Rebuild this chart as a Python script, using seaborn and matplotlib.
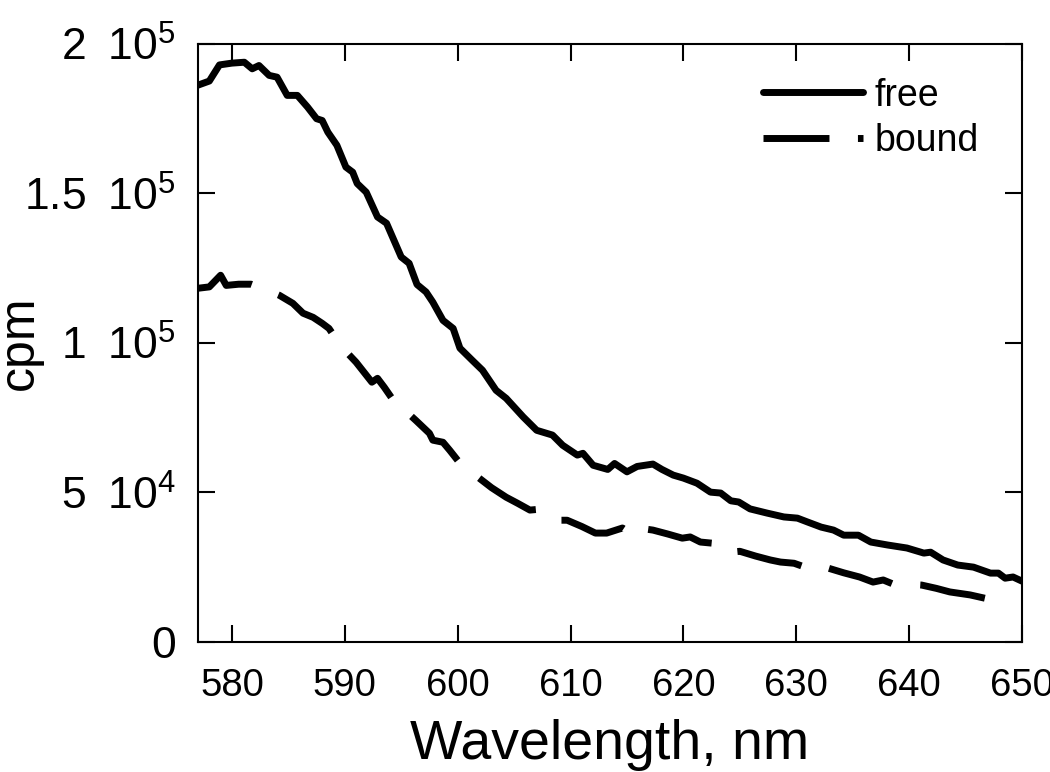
import numpy as np
import pandas as pd
import matplotlib
matplotlib.use("Agg")
import matplotlib.pyplot as plt
import seaborn as sns

# spectra (wavelength in nm, counts per minute / 1000)
free_nm = [576.9, 578.0, 578.9, 580.0, 581.1, 581.8, 582.4, 583.3, 584.0, 584.9,
           585.8, 586.7, 587.5, 588.0, 588.5, 589.3, 590.1, 590.7, 591.1, 591.9,
           592.9, 593.7, 595.0, 595.7, 596.4, 597.2, 597.8, 598.7, 599.6, 600.2,
           601.3, 602.2, 603.4, 604.3, 605.8, 607.0, 608.4, 609.3, 610.6, 611.1,
           612.0, 613.3, 613.9, 615.0, 615.9, 617.3, 618.1, 619.1, 620.0, 621.2,
           622.4, 623.3, 624.2, 624.9, 625.9, 627.4, 628.9, 630.1, 631.0, 632.2,
           633.3, 634.2, 635.5, 636.6, 638.1, 639.8, 641.3, 641.9, 643.0, 644.3,
           645.7, 647.2, 647.9, 648.5, 649.2, 650.0]
free_cpm = [186.1, 187.6, 193.0, 193.6, 193.9, 191.7, 192.8, 189.5, 188.9, 182.8,
            182.8, 178.9, 175.0, 174.4, 170.5, 166.1, 158.8, 157.1, 153.3, 150.4,
            142.1, 140.0, 128.7, 126.6, 119.5, 117.0, 113.6, 107.5, 104.8, 98.2,
            94.1, 90.8, 84.1, 81.4, 75.2, 70.7, 69.1, 65.7, 62.4, 63.0,
            59.0, 57.6, 59.6, 56.8, 58.6, 59.4, 57.6, 55.7, 54.7, 53.0,
            50.0, 49.7, 47.1, 46.7, 44.4, 43.0, 41.7, 41.3, 40.0, 38.3,
            37.3, 35.6, 35.6, 33.3, 32.3, 31.3, 29.6, 29.9, 27.3, 25.6,
            24.9, 22.9, 22.9, 21.2, 21.6, 20.2]

bound_nm = [576.9, 578.0, 579.0, 579.5, 580.6, 581.7, 583.0, 584.2, 585.4, 586.3,
            587.2, 588.0, 588.6, 589.1, 590.0, 591.0, 592.4, 592.9, 593.5, 594.6,
            595.0, 596.3, 597.5, 597.8, 598.7, 599.3, 600.2, 601.1, 601.8, 603.0,
            604.3, 605.3, 606.4, 607.3, 609.1, 609.7, 611.0, 612.2, 613.2, 614.6,
            615.4, 616.0, 617.3, 618.6, 619.9, 620.6, 621.5, 622.6, 623.9, 625.0,
            626.4, 627.7, 628.6, 629.8, 631.0, 632.2, 632.8, 634.2, 635.6, 636.8,
            637.7, 638.6, 639.8, 641.1, 642.4, 643.6, 645.4, 647.4, 649.1]
bound_cpm = [118.2, 118.7, 122.6, 119.2, 119.6, 119.6, 117.8, 115.9, 113.2, 109.9,
             108.5, 106.5, 104.8, 102.0, 97.5, 93.5, 86.8, 88.1, 85.1, 79.1,
             78.5, 74.0, 69.7, 67.4, 66.7, 64.0, 59.7, 58.0, 55.0, 51.5,
             48.3, 46.3, 44.0, 44.3, 40.6, 40.6, 38.5, 36.3, 36.3, 38.0,
             36.0, 38.0, 37.3, 36.0, 34.6, 35.0, 33.3, 32.9, 29.8, 30.2,
             28.6, 27.3, 26.6, 26.2, 24.6, 23.9, 24.6, 23.0, 21.6, 19.9,
             20.6, 19.2, 19.2, 18.9, 17.8, 16.6, 15.6, 13.9, 13.9]

x_ticks = [580, 590, 600, 610, 620, 630, 640, 650]
y_ticks = [0, 50000, 100000, 150000, 200000]
y_labels = ["0", r"$\mathregular{5\ \,10^{4}}$", r"$\mathregular{1\ \,10^{5}}$",
            r"$\mathregular{1.5\ \,10^{5}}$", r"$\mathregular{2\ \,10^{5}}$"]

df = pd.concat([
    pd.DataFrame({"nm": free_nm, "cpm": np.array(free_cpm) * 1000, "sample": "free"}),
    pd.DataFrame({"nm": bound_nm, "cpm": np.array(bound_cpm) * 1000, "sample": "bound"}),
])

sns.set_style("ticks", {"axes.edgecolor": "black", "xtick.color": "black",
                        "ytick.color": "black", "text.color": "black",
                        "axes.labelcolor": "black"})
plt.rcParams["font.family"] = ["Liberation Sans", "DejaVu Sans"]
plt.rcParams["mathtext.fontset"] = "custom"
plt.rcParams["mathtext.rm"] = "Liberation Sans"

fig = plt.figure(figsize=(10.5, 7.72), dpi=100)
ax = fig.add_axes([0.1886, 0.1690, 0.7848, 0.7740])

sns.lineplot(data=df, x="nm", y="cpm", style="sample", ax=ax,
             dashes={"free": "", "bound": (9.5, 4.1)},
             color="black", linewidth=5, estimator=None, sort=False)

ax.set_xlim(577, 650)
ax.set_ylim(0, 200000)
ax.set_xticks(x_ticks)
ax.set_xticklabels([str(t) for t in x_ticks])
ax.set_yticks(y_ticks)
ax.set_yticklabels(y_labels)
ax.tick_params(direction="in", length=12, width=1.5, top=True, right=True)
ax.tick_params(axis="x", pad=19, labelsize=27.5)
ax.tick_params(axis="y", pad=16, labelsize=32)
for sp in ax.spines.values():
    sp.set_linewidth(1.5)

ax.set_xlabel("Wavelength, nm", fontsize=40, labelpad=11)
ax.set_ylabel("cpm", fontsize=36)
ax.yaxis.set_label_coords(-0.188, 0.5)

ax.legend(loc="upper right", bbox_to_anchor=(0.9927, 1.0067), frameon=False,
          fontsize=27, handlelength=2.67, handletextpad=0.3, labelspacing=0.26,
          borderaxespad=0.6)

fig.savefig("out.png", dpi=100)
